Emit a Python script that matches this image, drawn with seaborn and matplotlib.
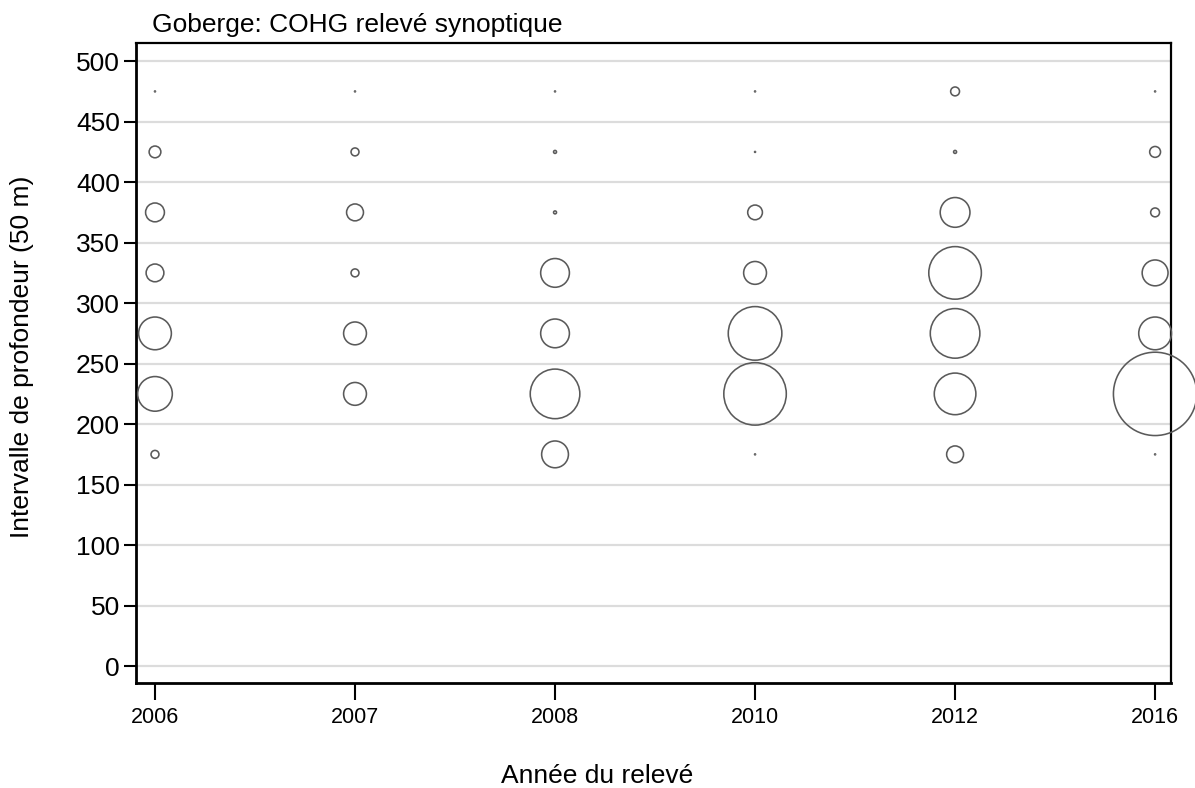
import numpy as np
import pandas as pd
import matplotlib
matplotlib.use('Agg')
import matplotlib.pyplot as plt
import seaborn as sns

# Données (poids relatif par intervalle de profondeur)
ANNEES = ['2006', '2007', '2008', '2010', '2012', '2016']
PROFONDEURS = [175, 225, 275, 325, 375, 425, 475]
POIDS_2006 = [6.4, 122, 109, 32, 36, 14, 0.1]
POIDS_2007 = [0, 53, 53, 6.4, 29, 6.4, 0.1]
POIDS_2008 = [73, 250, 84, 84, 0.9, 0.9, 0.1]
POIDS_2010 = [0.1, 397, 292, 53, 22, 0.1, 0.1]
POIDS_2012 = [29, 176, 250, 281, 90, 0.9, 8]
POIDS_2016 = [0.1, 706, 109, 68, 8, 12, 0.1]

Y_TICKS = list(range(0, 501, 50))

# Construction du dataframe
poids = [POIDS_2006, POIDS_2007, POIDS_2008, POIDS_2010, POIDS_2012, POIDS_2016]
lignes = []
for annee, valeurs in zip(ANNEES, poids):
    for prof, v in zip(PROFONDEURS, valeurs):
        if v > 0:
            lignes.append({'annee': annee, 'profondeur': prof, 'poids': v})
df = pd.DataFrame(lignes)

sns.set_theme(style='white')
plt.rcParams['font.family'] = ['Liberation Sans', 'DejaVu Sans']

fig = plt.figure(figsize=(11.95, 7.88), dpi=100)
ax = fig.add_axes([0.1138, 0.1332, 0.8662, 0.8122])

# grille horizontale
for y in Y_TICKS:
    ax.axhline(y, color='#dcdcdc', linewidth=1.6, zorder=0)

g = sns.scatterplot(data=df, x='annee', y='profondeur', size='poids',
                    sizes=(0, 3600), size_norm=(0, df['poids'].max()),
                    marker='o', linewidth=1.15, legend=False, ax=ax, zorder=3)
for coll in ax.collections:
    coll.set_facecolor('none')
    coll.set_edgecolor('#5a5a5a')
    coll.set_clip_on(False)

ax.set_xlim(-0.095, 5.08)
ax.set_ylim(-14, 515)
ax.set_yticks(Y_TICKS)
ax.set_xticks(range(len(ANNEES)))
ax.set_xticklabels(ANNEES)

for s in ax.spines.values():
    s.set_color('black')
    s.set_linewidth(1.6)
ax.spines['left'].set_linewidth(2.0)
ax.spines['bottom'].set_linewidth(2.0)

ax.tick_params(axis='y', which='major', left=True, length=8.5, width=1.5,
               color='black', labelsize=19, pad=3, labelcolor='black')
ax.tick_params(axis='x', which='major', bottom=True, length=12, width=1.5,
               color='black', labelsize=15.5, pad=5, labelcolor='black')

ax.set_xlabel('')
ax.set_ylabel('')
fig.text(0.5, 1 - 776 / 788, 'Année du relevé', fontsize=19,
         ha='center', va='center', color='black')
fig.text(22 / 1195, 1 - 357 / 788, 'Intervalle de profondeur (50 m)', fontsize=19,
         ha='center', va='center', rotation=90, color='black')

fig.text(152 / 1195, 1 - 25 / 788, 'Goberge: COHG relevé synoptique',
         fontsize=19, ha='left', va='center', color='black')

plt.savefig('out.png', dpi=100)
